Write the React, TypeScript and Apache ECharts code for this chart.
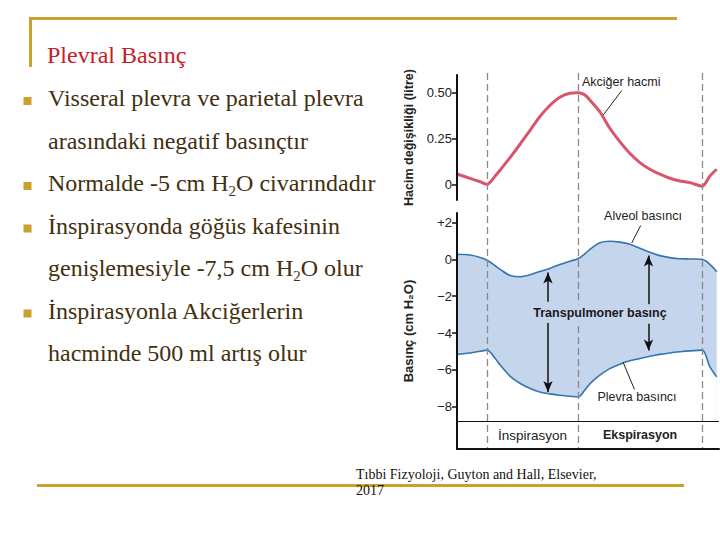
import React, { useEffect, useRef } from 'react';
import * as echarts from 'echarts';

// ---- data ----
const timeS = [-0.66, -0.37, -0.15, 0, 0.18, 0.29, 0.51, 0.73, 0.95, 1.16, 1.38, 1.6, 1.82, 2.0, 2.15, 2.26, 2.48, 2.7, 2.92, 3.14, 3.36, 3.58, 3.8, 4.02, 4.24, 4.46, 4.73, 4.9, 5.05];
const lungVolume = [0.056, 0.032, 0.014, 0, 0.045, 0.078, 0.147, 0.22, 0.296, 0.369, 0.43, 0.475, 0.497, 0.5, 0.488, 0.46, 0.396, 0.306, 0.233, 0.169, 0.118, 0.082, 0.055, 0.033, 0.018, 0.009, -0.01, 0.045, 0.082];
const alveolarPressure = [0.27, 0.23, 0.1, -0.05, -0.35, -0.55, -0.88, -0.95, -0.84, -0.66, -0.5, -0.28, -0.1, 0.03, 0.3, 0.54, 0.9, 0.98, 0.93, 0.82, 0.6, 0.38, 0.2, 0.09, 0.03, 0.02, 0, -0.27, -0.67];
const pleuralPressure = [-5.15, -5.08, -4.99, -4.93, -5.38, -5.74, -6.35, -6.74, -7.01, -7.2, -7.3, -7.38, -7.43, -7.47, -7.1, -6.76, -6.29, -5.93, -5.69, -5.51, -5.38, -5.26, -5.16, -5.08, -5.02, -4.97, -4.93, -5.84, -6.38];
const phaseBounds = [0, 2, 4.73];
const phaseLabels = ['İnspirasyon', 'Ekspirasyon'];
const volumeTicks = [0, 0.25, 0.5];
const volumeTickLabels = ['0', '0.25', '0.50'];
const pressureTicks = [-8, -6, -4, -2, 0, 2];
const pressureTickLabels = ['−8', '−6', '−4', '−2', '0', '+2'];
const tableSplit = -8.79;

const bodyLines = [
  { bullet: true, text: 'Visseral plevra ve parietal plevra' },
  { bullet: false, text: 'arasındaki negatif basınçtır' },
  { bullet: true, text: 'Normalde -5 cm H{s|2}O civarındadır' },
  { bullet: true, text: 'İnspirasyonda göğüs kafesinin' },
  { bullet: false, text: 'genişlemesiyle -7,5 cm H{s|2}O olur' },
  { bullet: true, text: 'İnspirasyonla Akciğerlerin' },
  { bullet: false, text: 'hacminde 500 ml artış olur' },
];

const SERIF = '"Liberation Serif", "Times New Roman", serif';
const SANS = '"Liberation Sans", Arial, Helvetica, sans-serif';
const GOLD = '#c9a12c';
const BLUE = '#3474b0';
const FILL = '#c5d5ec';
const XMIN = -0.66;
const XMAX = 5.1;
const PMIN = -10.293;
const PMAX = 2.512;

export default function App() {
  const ref = useRef<HTMLDivElement>(null);
  useEffect(() => {
    const chart = echarts.init(ref.current!, null, { renderer: 'svg' });
    const pair = (ys: number[]) => timeS.map((t, i) => [t, ys[i]]);

    const graphics: any[] = [
      { type: 'rect', shape: { x: 29, y: 17, width: 648, height: 3 }, style: { fill: GOLD }, silent: true },
      { type: 'rect', shape: { x: 29, y: 17, width: 3, height: 50 }, style: { fill: GOLD }, silent: true },
      { type: 'rect', shape: { x: 37, y: 484, width: 647, height: 3 }, style: { fill: GOLD }, silent: true },
      {
        type: 'text', x: 47, y: 55.2,
        style: { text: 'Plevral Basınç', font: `24px ${SERIF}`, fill: '#c4202a', verticalAlign: 'middle', align: 'left' },
      },
      {
        type: 'text', x: 356, y: 474.3,
        style: { text: 'Tıbbi Fizyoloji, Guyton and Hall, Elsevier,', font: `14px ${SERIF}`, fill: '#111', verticalAlign: 'middle' },
      },
      {
        type: 'text', x: 356, y: 490.3,
        style: { text: '2017', font: `14px ${SERIF}`, fill: '#111', verticalAlign: 'middle' },
      },
      // annotations
      { type: 'text', x: 582, y: 81.5, z: 100, style: { text: 'Akciğer hacmi', font: `12.5px ${SANS}`, fill: '#222', verticalAlign: 'middle' } },
      { type: 'line', z: 100, shape: { x1: 621.7, y1: 90.5, x2: 603.3, y2: 115 }, style: { stroke: '#222', lineWidth: 1 } },
      { type: 'text', x: 643, y: 216, z: 100, style: { text: 'Alveol basıncı', font: `12.5px ${SANS}`, fill: '#222', align: 'center', verticalAlign: 'middle' } },
      { type: 'line', z: 100, shape: { x1: 640.7, y1: 225.5, x2: 631.7, y2: 243 }, style: { stroke: '#222', lineWidth: 1 } },
      { type: 'text', x: 637, y: 397, z: 100, style: { text: 'Plevra basıncı', font: `12.5px ${SANS}`, fill: '#222', align: 'center', verticalAlign: 'middle' } },
      { type: 'line', z: 100, shape: { x1: 623, y1: 362, x2: 634.5, y2: 389.5 }, style: { stroke: '#222', lineWidth: 1 } },
      {
        type: 'text', x: 600, y: 313, z: 100,
        style: {
          text: 'Transpulmoner basınç', font: `bold 12.5px ${SANS}`, fill: '#1a1a1a', align: 'center', verticalAlign: 'middle',
          backgroundColor: FILL, padding: [2, 1],
        },
      },
    ];

    const baselines = [106.5, 149, 191.5, 234, 276.5, 319, 361.5];
    bodyLines.forEach((ln, i) => {
      const b = baselines[i];
      if (ln.bullet) {
        graphics.push({ type: 'rect', shape: { x: 23.5, y: b - 9.5, width: 8, height: 8 }, style: { fill: GOLD }, silent: true });
      }
      graphics.push({
        type: 'text', x: 48, y: b - 8.1,
        style: {
          text: ln.text,
          fontFamily: SERIF, fontSize: 24, lineHeight: 30, fill: '#42300f',
          verticalAlign: 'middle', align: 'left',
          rich: {
            s: { fontFamily: SERIF, fontSize: 15, lineHeight: 16, verticalAlign: 'bottom', fill: '#42300f' },
          },
        },
      });
    });

    const axisName = (name: string, size: number) => ({
      name,
      nameLocation: 'middle',
      nameRotate: 90,
      nameGap: 42,
      nameTextStyle: { fontFamily: SANS, fontWeight: 'bold', fontSize: size, color: '#222' },
    });

    const option: any = {
      animation: false,
      backgroundColor: '#ffffff',
      grid: [
        { left: 457, top: 75, width: 262, height: 125 },
        { left: 457, top: 213, width: 262, height: 236 },
        { left: 457, top: 73, width: 262, height: 380 },
      ],
      xAxis: [0, 1, 2].map((g) => ({
        type: 'value', gridIndex: g, min: XMIN, max: XMAX, show: g === 1, z: 10,
        axisLine: { show: g === 1, onZero: false, lineStyle: { color: '#111', width: 2 } },
        axisTick: { show: false }, axisLabel: { show: false }, splitLine: { show: false },
      })),
      yAxis: [
        {
          type: 'value', gridIndex: 0, min: -0.0857, max: 0.5966, z: 10,
          ...axisName('Hacim değişikliği (litre)', 12.5),
          axisLine: { show: true, onZero: false, lineStyle: { color: '#111', width: 2 } },
          axisTick: { show: true, length: 5, customValues: volumeTicks, lineStyle: { color: '#111', width: 1.5 } },
          axisLabel: {
            customValues: volumeTicks, margin: 5, fontFamily: SANS, fontSize: 13, color: '#222',
            formatter: (v: number) => volumeTickLabels[volumeTicks.indexOf(v)] ?? '',
          },
          splitLine: { show: false },
        },
        {
          type: 'value', gridIndex: 1, min: PMIN, max: PMAX, z: 10,
          ...axisName('Basınç (cm H₂O)', 13),
          axisLine: { show: true, onZero: false, lineStyle: { color: '#111', width: 2 } },
          axisTick: { show: true, length: 5, customValues: pressureTicks, lineStyle: { color: '#111', width: 1.5 } },
          axisLabel: {
            customValues: pressureTicks, margin: 5, fontFamily: SANS, fontSize: 13, color: '#222',
            formatter: (v: number) => pressureTickLabels[pressureTicks.indexOf(v)] ?? '',
          },
          splitLine: { show: false },
        },
        // overlay axis: 0 = top of the figure (y 73), 1 = just below the table (y 453)
        { type: 'value', gridIndex: 2, min: 0, max: 1, inverse: true, show: false, splitLine: { show: false } },
      ],
      series: [
        {
          name: 'Akciğer hacmi', type: 'line', xAxisIndex: 0, yAxisIndex: 0,
          data: pair(lungVolume), smooth: 0.3, showSymbol: false,
          lineStyle: { color: '#d9556c', width: 3 },
        },
        {
          // upper boundary of the transpulmonary band, filled down to the table line
          name: 'Alveol basıncı', type: 'line', xAxisIndex: 1, yAxisIndex: 1, z: 2,
          data: pair(alveolarPressure), smooth: 0.3, showSymbol: false,
          lineStyle: { color: BLUE, width: 1.6 },
          areaStyle: { color: FILL, opacity: 1, origin: tableSplit },
        },
        {
          // lower boundary; white fill below it cuts the band out
          name: 'Plevra basıncı', type: 'line', xAxisIndex: 1, yAxisIndex: 1, z: 3,
          data: pair(pleuralPressure), smooth: 0.3, showSymbol: false,
          lineStyle: { color: BLUE, width: 1.6 },
          areaStyle: { color: '#ffffff', opacity: 1, origin: tableSplit },
        },
        {
          name: 'arrows', type: 'line', xAxisIndex: 1, yAxisIndex: 1, data: [], z: 6,
          markLine: {
            silent: true, animation: false, z: 8, symbol: ['none', 'arrow'], symbolSize: [7, 11],
            label: { show: false },
            lineStyle: { color: '#111', width: 1.5, type: 'solid' },
            data: [
              [{ coord: [1.34, -2.3] }, { coord: [1.34, -0.72] }],
              [{ coord: [1.34, -3.45] }, { coord: [1.34, -7.2] }],
              [{ coord: [3.55, -2.45] }, { coord: [3.55, 0.2] }],
              [{ coord: [3.55, -3.5] }, { coord: [3.55, -4.95] }],
            ],
          },
          markArea: {
            silent: true, z: 8,
            itemStyle: { color: 'rgba(0,0,0,0)' },
            label: { show: true, position: 'inside', fontFamily: SANS, fontSize: 13, color: '#222' },
            data: [
              [{ name: phaseLabels[0], xAxis: phaseBounds[0], yAxis: tableSplit, label: { fontWeight: 'normal', fontSize: 13.5 } }, { xAxis: phaseBounds[1], yAxis: PMIN }],
              [{ name: phaseLabels[1], xAxis: phaseBounds[1], yAxis: tableSplit, label: { fontWeight: 'bold', fontSize: 12.5 } }, { xAxis: phaseBounds[2], yAxis: PMIN }],
            ],
          },
        },
        {
          name: 'table line', type: 'line', xAxisIndex: 1, yAxisIndex: 1, data: [], z: 6,
          markLine: {
            silent: true, animation: false, z: 8, symbol: 'none', label: { show: false },
            lineStyle: { color: '#111', width: 1.2, type: 'solid' },
            data: [{ yAxis: tableSplit }],
          },
        },
        {
          name: 'phases', type: 'line', xAxisIndex: 2, yAxisIndex: 2, data: [], z: 7,
          markLine: {
            silent: true, animation: false, z: 9, symbol: 'none', label: { show: false },
            lineStyle: { color: '#8a8a8a', width: 1.3, type: [7, 4] },
            data: [
              ...phaseBounds.map((x) => [{ coord: [x, 0] }, { coord: [x, 0.9895] }]),
              [
                { coord: [XMIN, 0.9895], lineStyle: { color: '#111', width: 2, type: 'solid' } },
                { coord: [XMAX, 0.9895] },
              ],
            ],
          },
        },
      ],
      graphic: graphics,
    };
    chart.setOption(option);
    return () => chart.dispose();
  }, []);
  return <div ref={ref} style={{ position: 'fixed', left: 0, top: 0, width: 720, height: 540 }} />;
}
